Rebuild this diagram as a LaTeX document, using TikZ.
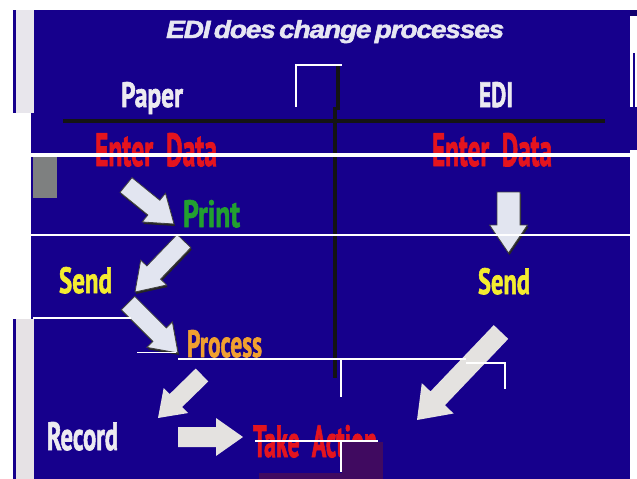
\documentclass[tikz,border=0pt]{standalone}
\usepackage{fontspec}
\usepackage{graphicx}
\usetikzlibrary{calc}
\setmainfont{Liberation Sans}
\newfontfamily\titlefont{Liberation Sans}[LetterSpace=-4,WordSpace=0.5,BoldItalicFeatures={FakeBold=2}]
\newfontfamily\labelfont{PT Sans}[BoldFeatures={FakeBold=2}]

\definecolor{slideblue}{RGB}{22,0,140}
\definecolor{stripgray}{RGB}{232,230,236}
\definecolor{boxgray}{RGB}{126,128,128}
\definecolor{boxpurple}{RGB}{64,10,96}
\definecolor{titlewhite}{RGB}{230,230,242}
\definecolor{labelwhite}{RGB}{236,234,240}
\definecolor{labelred}{RGB}{228,20,30}
\definecolor{labelgreen}{RGB}{34,160,48}
\definecolor{labelyellow}{RGB}{244,236,48}
\definecolor{labelorange}{RGB}{240,160,48}
\definecolor{arrowfill}{RGB}{226,229,240}
\definecolor{arrowflat}{RGB}{228,226,224}

% block arrow: #1 style, #2 tail, #3 tip, #4 shaft half width, #5 head half width, #6 head length
\newcommand\blockarr[6]{%
  \path ($(#3)!#6!(#2)$) coordinate (ba-h);
  \path[#1] ($(#2)!#4!90:(#3)$) -- ($(ba-h)!#4!90:(#3)$) -- ($(ba-h)!#5!90:(#3)$)
    -- (#3) -- ($(ba-h)!#5!-90:(#3)$) -- ($(ba-h)!#4!-90:(#3)$) -- ($(#2)!#4!-90:(#3)$) -- cycle;}
% arrow with a dark drop shadow
\newcommand\shadedarr[5]{%
  \begin{scope}[transform canvas={shift={(1,2)}}]
    \blockarr{fill=black!85}{#1}{#2}{#3}{#4}{#5}
  \end{scope}
  \blockarr{fill=arrowfill,draw=black!75,line width=0.8pt}{#1}{#2}{#3}{#4}{#5}}

\begin{document}
\begin{tikzpicture}[x=1pt,y=-1pt,
  lbl/.style={anchor=base west,inner sep=0pt,outer sep=0pt,font=\labelfont\bfseries},
  divider/.style={draw=black!92,line width=4.5pt},
  glitch/.style={draw=white,line width=#1},
  glitch/.default=2.5pt]
\useasboundingbox (0,0) rectangle (637,479);
\fill[white] (0,0) rectangle (637,479);

% slide background and the scan's edges
\fill[slideblue] (13,10) rectangle (630,479);
\fill[slideblue] (630,107) rectangle (637,150);
\fill[white] (0,113) rectangle (31,319);
\fill[stripgray] (16,10) rectangle (34,113);
\fill[stripgray!96!brown] (16,319) rectangle (34,479);
\fill[boxgray] (33,157) rectangle (57,198);
\fill[slideblue!80!black] (630,10) rectangle (637,16);
\draw[slideblue,line width=2pt] (634,53) -- (634,107);

% T-shaped divider
\draw[divider] (63,121) -- (605,121);
\draw[divider,line width=4pt] (338,65) -- (338,110);
\draw[divider,line width=4pt] (335,107) -- (335,378);

% title and column heads
\node[anchor=base west,inner sep=0pt,text=titlewhite,font=\titlefont\bfseries\itshape]
  (title) at (166,38) {\resizebox{338pt}{18pt}{EDI does change processes}};
\node[lbl,text=labelwhite] (paper) at (121,107) {\resizebox{62pt}{25pt}{Paper}};
\node[lbl,text=labelwhite] (edi) at (479,107) {\resizebox{34pt}{25pt}{EDI}};

% paper process
\node[lbl,text=labelred] (entL) at (95,166) {\resizebox{122pt}{33pt}{Enter\ \ Data}};
\node[lbl,text=labelgreen] (print) at (183,227) {\resizebox{57pt}{27pt}{Print}};
\node[lbl,text=labelyellow] (sendL) at (59,293) {\resizebox{53pt}{26pt}{Send}};
\node[lbl,text=labelorange] (process) at (187,357) {\resizebox{75pt}{27pt}{Process}};
\node[lbl,text=labelwhite] (record) at (47,450) {\resizebox{71pt}{28pt}{Record}};
\node[lbl,text=labelred] (action) at (253,457) {\resizebox{124pt}{32pt}{Take\ \ Action}};

% EDI process
\node[lbl,text=labelred] (entR) at (432,166) {\resizebox{120pt}{33pt}{Enter\ \ Data}};
\node[lbl,text=labelyellow] (sendR) at (478,294) {\resizebox{52pt}{26pt}{Send}};

% arrow ends
\coordinate (a1t) at (126,185); \coordinate (a1p) at (174,224);
\coordinate (a2t) at (184,241); \coordinate (a2p) at (135,292);
\coordinate (a3t) at (128,303); \coordinate (a3p) at (178,353);
\coordinate (a4t) at (202,375); \coordinate (a4p) at (158,418);
\coordinate (a5t) at (178,437); \coordinate (a5p) at (243,437);
\coordinate (a6t) at (508.5,192); \coordinate (a6p) at (508.5,253);
\coordinate (a7t) at (501,332); \coordinate (a7p) at (417,420);

% block arrows
\shadedarr{a1t}{a1p}{9.5pt}{18.5pt}{26pt}
\shadedarr{a2t}{a2p}{9.5pt}{18pt}{27pt}
\shadedarr{a3t}{a3p}{9.5pt}{18pt}{26pt}
\blockarr{fill=arrowflat}{a4t}{a4p}{9pt}{17.5pt}{25pt}
\blockarr{fill=arrowflat}{a5t}{a5p}{10pt}{19pt}{27pt}
\shadedarr{a6t}{a6p}{11.5pt}{19pt}{28pt}
\blockarr{fill=arrowflat}{a7t}{a7p}{10pt}{22pt}{30pt}

% scan seams
\draw[glitch=4pt] (31,155) -- (637,155);
\draw[glitch] (31,235) -- (637,235);
\draw[glitch=2pt] (33,318) -- (131,318);
\draw[glitch=1pt] (137,352) -- (176,352);
\draw[glitch=2pt] (178,359) -- (466,359);
\draw[glitch] (466,363) -- (505,363) -- (505,389);
\draw[glitch=1.5pt] (341,359) -- (341,397);
\draw[glitch] (296,107) -- (296,65) -- (342,65);
\fill[boxpurple] (342,442) rectangle (383,479);
\fill[boxpurple] (259,473) rectangle (383,479);
\draw[glitch] (255,441) -- (378,441);
\draw[glitch=1.5pt] (341,441) -- (341,472);
\end{tikzpicture}
\end{document}
